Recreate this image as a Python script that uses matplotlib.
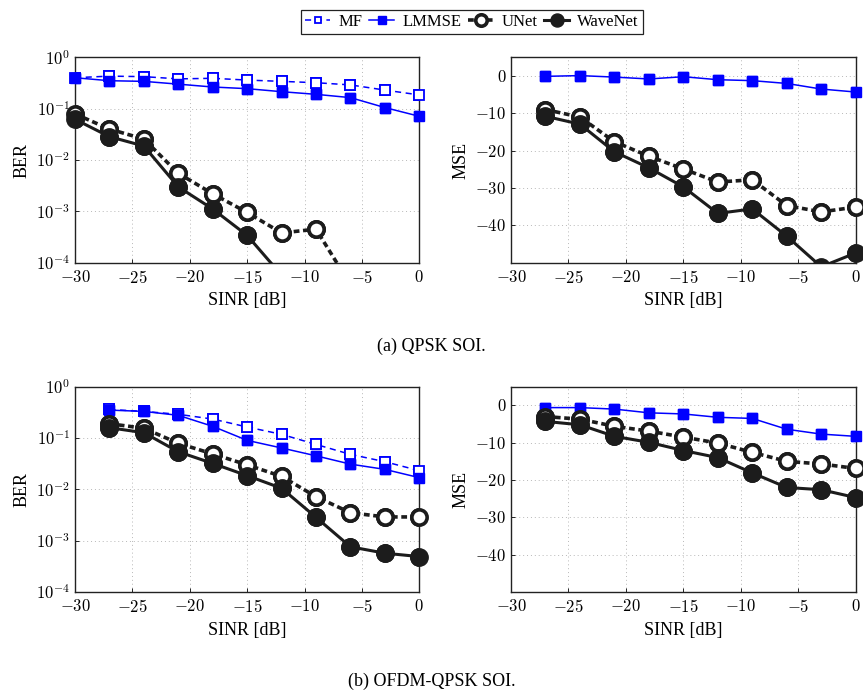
"""BER / MSE vs SINR for QPSK and OFDM-QPSK signals of interest."""

import matplotlib
matplotlib.use("Agg")
import matplotlib.pyplot as plt
import numpy as np
from matplotlib.ticker import FixedLocator, FuncFormatter, NullLocator

plt.rcParams["font.family"] = "serif"
plt.rcParams["font.serif"] = ["Liberation Serif", "DejaVu Serif"]
plt.rcParams["mathtext.fontset"] = "cm"

SINR = np.array([-30, -27, -24, -21, -18, -15, -12, -9, -6, -3, 0])
SINR_MSE = SINR[1:]
nan = np.nan

# (a) QPSK SOI
qpsk_ber_mf = [0.40, 0.43, 0.42, 0.38, 0.39, 0.36, 0.34, 0.32, 0.29, 0.23, 0.185]
qpsk_ber_lmmse = [0.40, 0.35, 0.34, 0.30, 0.264, 0.245, 0.214, 0.19, 0.164, 0.105, 0.071]
qpsk_ber_unet = [0.079, 0.040, 0.0256, 0.0055, 0.0022, 0.00095, 0.00038, 0.00045, 3.7e-5, nan, nan]
qpsk_ber_wavenet = [0.062, 0.0285, 0.0187, 0.0030, 0.00111, 0.00034, 5.7e-5, nan, nan, nan, nan]

qpsk_mse_lmmse = [-0.1, 0.1, -0.3, -0.8, -0.2, -1.0, -1.25, -2.0, -3.5, -4.3]
qpsk_mse_unet = [-9.0, -11.0, -17.6, -21.5, -24.9, -28.4, -27.8, -34.7, -36.4, -35.1]
qpsk_mse_wavenet = [-10.8, -12.9, -20.3, -24.6, -29.7, -36.8, -35.6, -42.9, -51.1, -47.4]

# (b) OFDM-QPSK SOI
ofdm_ber_mf = [nan, 0.36, 0.33, 0.29, 0.234, 0.164, 0.118, 0.075, 0.048, 0.0346, 0.0231]
ofdm_ber_lmmse = [nan, 0.35, 0.33, 0.277, 0.169, 0.090, 0.064, 0.045, 0.031, 0.0245, 0.0169]
ofdm_ber_unet = [nan, 0.19, 0.155, 0.079, 0.049, 0.030, 0.0179, 0.0072, 0.0035, 0.0029, 0.0029]
ofdm_ber_wavenet = [nan, 0.159, 0.127, 0.054, 0.032, 0.0185, 0.0105, 0.00285, 0.00076, 0.00057, 0.00049]

ofdm_mse_lmmse = [-0.6, -0.6, -1.0, -2.0, -2.3, -3.2, -3.5, -6.4, -7.7, -8.3]
ofdm_mse_unet = [-3.0, -3.7, -5.6, -6.9, -8.5, -10.1, -12.6, -15.0, -15.7, -16.9]
ofdm_mse_wavenet = [-4.3, -5.2, -8.3, -9.9, -12.1, -14.0, -18.1, -22.0, -22.6, -24.7]

BLUE = "#0000ff"
DARK = "#1c1c1c"
STYLES = {
    "MF": dict(color=BLUE, ls=(0, (4, 3)), lw=1.1, marker="s", ms=6.5,
               mfc="white", mec=BLUE, mew=1.3),
    "LMMSE": dict(color=BLUE, ls="-", lw=1.1, marker="s", ms=7.5,
                  mfc=BLUE, mec=BLUE, mew=1.0),
    "UNet": dict(color=DARK, ls=(0, (1.6, 1.0)), lw=2.6, marker="o", ms=11,
                 mfc="white", mec=DARK, mew=2.6),
    "WaveNet": dict(color=DARK, ls="-", lw=2.2, marker="o", ms=12.5,
                    mfc=DARK, mec=DARK, mew=1.0),
}

TICK_FS = 12
LABEL_FS = 13


def draw(ax, x, series, ylim, log):
    handles = []
    for name, y in series:
        y = np.asarray(y, dtype=float)
        st = STYLES[name]
        h, = ax.plot(x, y, label=name, zorder=3, **st)
        handles.append(h)
        # pgfplots does not clip markers at the axis edge
        vis = np.isfinite(y) & (y >= ylim[0]) & (y <= ylim[1])
        mk = {k: v for k, v in st.items() if k not in ("ls", "lw")}
        ax.plot(x[vis], y[vis], ls="none", clip_on=False, zorder=4, **mk)
    ax.set_xlim(-30, 0)
    ax.set_ylim(*ylim)
    ax.xaxis.set_major_locator(FixedLocator([-30, -25, -20, -15, -10, -5, 0]))
    ax.xaxis.set_major_formatter(FuncFormatter(lambda v, p: r"$%d$" % v))
    if log:
        ax.set_yscale("log")
        ax.yaxis.set_major_locator(FixedLocator([1e-4, 1e-3, 1e-2, 1e-1, 1e0]))
        ax.yaxis.set_major_formatter(
            FuncFormatter(lambda v, p: r"$10^{%d}$" % round(np.log10(v))))
        ax.yaxis.set_minor_locator(NullLocator())
        ax.set_ylabel("BER", fontsize=LABEL_FS)
    else:
        ax.yaxis.set_major_locator(FixedLocator([0, -10, -20, -30, -40]))
        ax.yaxis.set_major_formatter(FuncFormatter(lambda v, p: r"$%d$" % v))
        ax.set_ylabel("MSE", fontsize=LABEL_FS)
    ax.grid(True, ls=(0, (1, 3)), color="#b8b8b8", lw=0.7)
    ax.tick_params(direction="in", length=3, labelsize=TICK_FS, width=0.6)
    ax.tick_params(axis="x", pad=5)
    ax.set_xlabel("SINR [dB]", fontsize=LABEL_FS, labelpad=4)
    for sp in ax.spines.values():
        sp.set_linewidth(1.0)
        sp.set_color("#222222")
    return handles


fig = plt.figure(figsize=(8.63, 6.94), dpi=100)
W, H = 863, 694


def axes_px(x0, y0, x1, y1):
    return fig.add_axes([x0 / W, 1 - y1 / H, (x1 - x0) / W, (y1 - y0) / H])


ax1 = axes_px(75, 57.3, 419.3, 262.7)
ax2 = axes_px(511, 57.3, 855.7, 262.7)
ax3 = axes_px(75, 386.7, 419.3, 592)
ax4 = axes_px(511, 386.7, 855.7, 592)

SX = np.array(SINR, dtype=float)
MX = np.array(SINR_MSE, dtype=float)

handles = draw(ax1, SX, [("MF", qpsk_ber_mf), ("LMMSE", qpsk_ber_lmmse),
                         ("UNet", qpsk_ber_unet), ("WaveNet", qpsk_ber_wavenet)],
               (1e-4, 1e0), True)
draw(ax2, MX, [("LMMSE", qpsk_mse_lmmse), ("UNet", qpsk_mse_unet),
               ("WaveNet", qpsk_mse_wavenet)], (-50, 5), False)
draw(ax3, SX, [("MF", ofdm_ber_mf), ("LMMSE", ofdm_ber_lmmse),
               ("UNet", ofdm_ber_unet), ("WaveNet", ofdm_ber_wavenet)],
     (1e-4, 1e0), True)
draw(ax4, MX, [("LMMSE", ofdm_mse_lmmse), ("UNet", ofdm_mse_unet),
               ("WaveNet", ofdm_mse_wavenet)], (-50, 5), False)

leg = fig.legend(handles=handles, loc="upper center", bbox_to_anchor=(0.547, 0.998),
                 ncol=4, fontsize=12, handlelength=1.5, handletextpad=0.5,
                 columnspacing=0.4, borderpad=0.25, fancybox=False,
                 framealpha=1, edgecolor="#222222", markerscale=0.75)
leg.get_frame().set_linewidth(0.9)

fig.text(0.5, 1 - 346 / H, "(a) QPSK SOI.", ha="center", va="center", fontsize=13)
fig.text(0.5, 1 - 681 / H, "(b) OFDM-QPSK SOI.", ha="center", va="center", fontsize=13)

fig.savefig("out.png", dpi=100)
plt.close(fig)
